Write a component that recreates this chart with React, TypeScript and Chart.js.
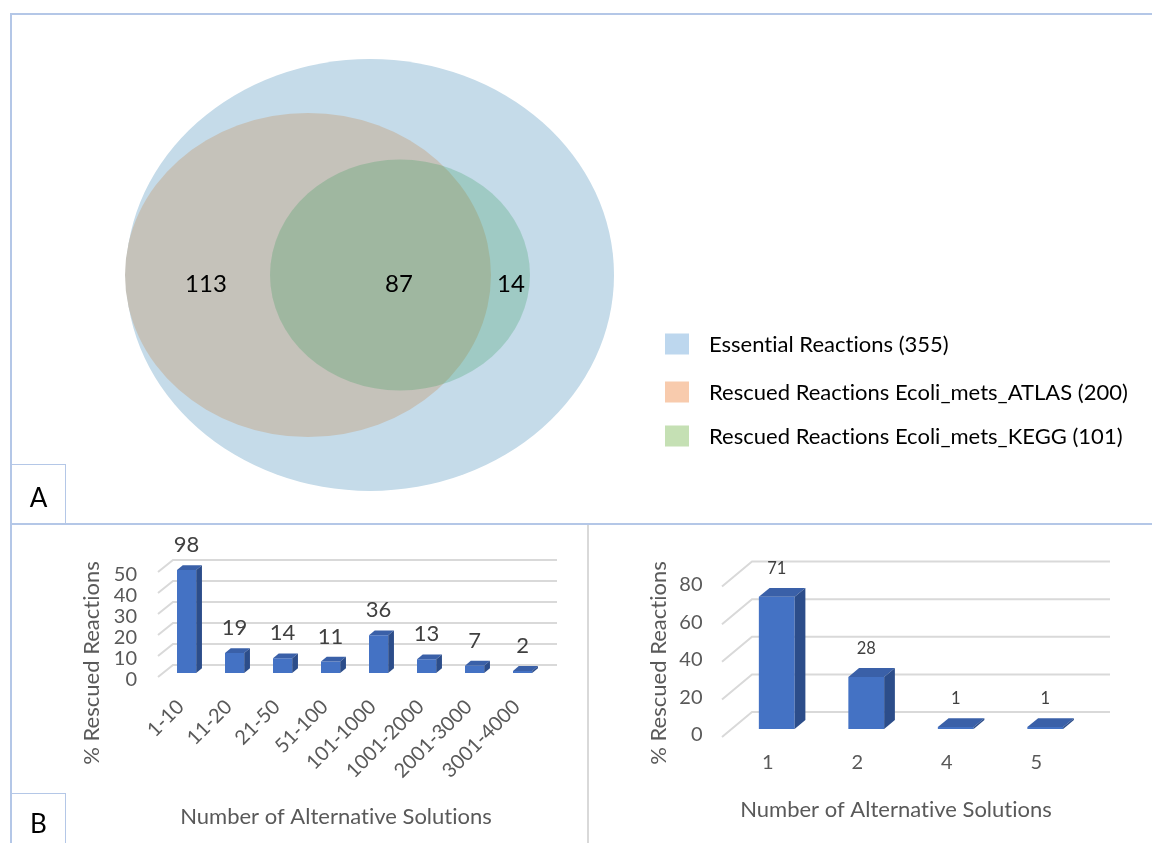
import React, { useEffect, useRef } from 'react';
import { Chart, registerables } from 'chart.js';

Chart.register(...registerables);

const FONT = 'Lato, "Liberation Sans", "DejaVu Sans", sans-serif';
Chart.defaults.font.family = FONT;

// ---------- Panel A : Venn diagram ----------
const vennSetLabels = [
  'Essential Reactions (355)',
  'Rescued Reactions Ecoli_mets_ATLAS (200)',
  'Rescued Reactions Ecoli_mets_KEGG (101)',
];
const vennSetCx = [0, -0.62, 0.3];
const vennSetCy = [0, 0, 0];
const vennSetRx = [2.44, 1.83, 1.3];
const vennSetRy = [2.16, 1.62, 1.155];
const vennRegionValues = [113, 87, 14];
const vennRegionX = [-1.64, 0.29, 1.41];
const vennRegionY = [-0.09, -0.09, -0.09];

const vennFill = ['#c5dbe9', '#c5c2ba', 'rgba(39,152,79,0.24)'];
const vennLegendColors = ['#bdd7ee', '#f8cbad', '#c5e0b4'];

// ---------- Panel B (left) ----------
const atlasCategories = ['1-10', '11-20', '21-50', '51-100', '101-1000', '1001-2000', '2001-3000', '3001-4000'];
const atlasPercent = [49, 9.5, 7, 5.5, 18, 6.5, 3.5, 1];
const atlasCounts = [98, 19, 14, 11, 36, 13, 7, 2];
const atlasTickMax = 50;
const atlasTickStep = 10;

// ---------- Panel B (right) ----------
const keggCategories = ['1', '2', '4', '5'];
const keggPercent = [70.3, 27.7, 1, 1];
const keggCounts = [71, 28, 1, 1];
const keggTickMax = 80;
const keggTickStep = 20;

const yTitle = '% Rescued Reactions';
const xTitle = 'Number of Alternative Solutions';

function noLigatures(ctx: any) {
  try {
    ctx.letterSpacing = '0.01px';
  } catch (e) {
    /* ignore */
  }
}

const vennPlugin = {
  id: 'venn',
  beforeDatasetsDraw(chart: any) {
    const { ctx, scales } = chart;
    const xs = scales.x, ys = scales.y;
    chart.data.datasets.forEach((ds: any) => {
      const p = ds.data[0];
      const cx = xs.getPixelForValue(p.x);
      const cy = ys.getPixelForValue(p.y);
      const rx = Math.abs(xs.getPixelForValue(p.x + p.rx) - cx);
      const ry = Math.abs(ys.getPixelForValue(p.y + p.ry) - cy);
      ctx.save();
      ctx.fillStyle = ds.backgroundColor;
      ctx.beginPath();
      ctx.ellipse(cx, cy, rx, ry, 0, 0, Math.PI * 2);
      ctx.fill();
      ctx.restore();
    });
  },
  afterDatasetsDraw(chart: any, _args: any, opts: any) {
    const { ctx, scales } = chart;
    const xs = scales.x, ys = scales.y;
    ctx.save();
    noLigatures(ctx);
    ctx.fillStyle = '#000';
    ctx.font = `24px ${FONT}`;
    ctx.textAlign = 'center';
    ctx.textBaseline = 'middle';
    vennRegionValues.forEach((v, i) => {
      ctx.fillText(String(v), xs.getPixelForValue(vennRegionX[i]), ys.getPixelForValue(vennRegionY[i]));
    });
    // legend
    ctx.font = `22px ${FONT}`;
    ctx.textAlign = 'left';
    chart.data.datasets.forEach((ds: any, i: number) => {
      const cy = opts.itemY[i];
      ctx.fillStyle = ds.legendColor;
      ctx.fillRect(opts.boxX, cy - opts.boxH / 2, opts.boxW, opts.boxH);
      ctx.fillStyle = '#000';
      ctx.fillText(ds.label, opts.textX, cy + 1);
    });
    ctx.restore();
  },
};

const bar3dPlugin = {
  id: 'bar3d',
  beforeDatasetsDraw(chart: any, _a: any, o: any) {
    const { ctx, chartArea, scales } = chart;
    const ys = scales.y;
    ctx.save();
    ctx.strokeStyle = o.gridColor;
    ctx.lineWidth = o.gridWidth;
    ys.ticks.forEach((t: any) => {
      const py = ys.getPixelForValue(t.value);
      ctx.beginPath();
      ctx.moveTo(chartArea.left + o.front.dx, py + o.front.dy);
      ctx.lineTo(chartArea.left + o.back.dx, py + o.back.dy);
      ctx.lineTo(chartArea.right + o.back.dx, py + o.back.dy);
      ctx.stroke();
    });
    ctx.restore();
  },
  afterDatasetsDraw(chart: any, _a: any, o: any) {
    const { ctx } = chart;
    const meta = chart.getDatasetMeta(0);
    ctx.save();
    noLigatures(ctx);
    meta.data.forEach((bar: any, i: number) => {
      const { x, y, base, width } = bar.getProps(['x', 'y', 'base', 'width'], true);
      const l = x - width / 2;
      const r = x + width / 2;
      const dx = width * o.depthX;
      const dy = -width * o.depthY;
      ctx.fillStyle = o.topColor;
      ctx.beginPath();
      ctx.moveTo(l, y);
      ctx.lineTo(l + dx, y + dy);
      ctx.lineTo(r + dx, y + dy);
      ctx.lineTo(r, y);
      ctx.closePath();
      ctx.fill();
      ctx.fillStyle = o.sideColor;
      ctx.beginPath();
      ctx.moveTo(r, y);
      ctx.lineTo(r + dx, y + dy);
      ctx.lineTo(r + dx, base + dy);
      ctx.lineTo(r, base);
      ctx.closePath();
      ctx.fill();
      // value label
      ctx.fillStyle = o.labelColor;
      ctx.font = `${o.labelSize}px ${FONT}`;
      ctx.textAlign = 'center';
      ctx.textBaseline = 'middle';
      ctx.fillText(String(o.valueLabels[i]), x, y - o.labelGap);
    });
    // axis titles
    ctx.fillStyle = '#595959';
    ctx.font = `22px ${FONT}`;
    ctx.textAlign = 'center';
    ctx.textBaseline = 'middle';
    ctx.fillText(o.xTitle.text, o.xTitle.cx, o.xTitle.cy);
    ctx.translate(o.yTitle.cx, o.yTitle.cy);
    ctx.rotate(-Math.PI / 2);
    ctx.fillText(o.yTitle.text, 0, 0);
    ctx.restore();
  },
};

function makeBarConfig(p: any) {
  return {
    type: 'bar',
    data: {
      labels: p.categories,
      datasets: [
        {
          data: p.values,
          backgroundColor: '#4472c4',
          borderWidth: 0,
          barPercentage: 0.8,
          categoryPercentage: 0.5,
        },
      ],
    },
    options: {
      animation: false,
      responsive: false,
      layout: { padding: p.padding },
      plugins: {
        legend: { display: false },
        tooltip: { enabled: false },
        bar3d: {
          gridColor: '#d9d9d9',
          gridWidth: 2,
          front: p.front,
          back: p.back,
          depthX: 0.3,
          depthY: 0.25,
          topColor: '#3a60a8',
          sideColor: '#2c4d8a',
          labelColor: '#404040',
          labelSize: p.labelSize,
          labelGap: p.labelGap,
          valueLabels: p.counts,
          xTitle: { text: xTitle, cx: p.xTitlePos[0], cy: p.xTitlePos[1] },
          yTitle: { text: yTitle, cx: p.yTitlePos[0], cy: p.yTitlePos[1] },
        },
      },
      scales: {
        x: {
          grid: { display: false, drawTicks: false },
          border: { display: false },
          ticks: {
            color: '#595959',
            font: { size: p.xTickSize },
            maxRotation: p.rotation,
            minRotation: p.rotation,
            padding: p.xTickPad,
            labelOffset: p.xLabelOffset,
            autoSkip: false,
          },
          afterFit: (s: any) => {
            s.height = p.xHeight;
          },
        },
        y: {
          min: 0,
          max: p.max,
          grid: { display: false, drawTicks: false },
          border: { display: false },
          ticks: {
            stepSize: p.step,
            autoSkip: false,
            color: '#595959',
            font: { size: p.yTickSize },
            padding: p.yTickPad,
            labelOffset: p.yLabelOffset,
          },
          afterFit: (s: any) => {
            s.width = p.yWidth;
          },
        },
      },
    },
    plugins: [bar3dPlugin],
  };
}

function VennChart() {
  const ref = useRef<HTMLCanvasElement>(null);
  useEffect(() => {
    const chart = new Chart(ref.current as HTMLCanvasElement, {
      type: 'scatter',
      data: {
        datasets: vennSetLabels.map((label, i) => ({
          label,
          data: [{ x: vennSetCx[i], y: vennSetCy[i], rx: vennSetRx[i], ry: vennSetRy[i] }],
          backgroundColor: vennFill[i],
          legendColor: vennLegendColors[i],
          pointRadius: 0,
        })),
      } as any,
      options: {
        animation: false,
        responsive: false,
        layout: { padding: 0 },
        scales: {
          x: { type: 'linear', min: -3.7, max: 7.82, display: false },
          y: { type: 'linear', min: -2.48, max: 2.75, display: false },
        },
        plugins: {
          legend: { display: false },
          tooltip: { enabled: false },
          venn: { boxX: 665, boxW: 24, boxH: 21, textX: 709, itemY: [344, 392, 436] },
        } as any,
      },
      plugins: [vennPlugin],
    } as any);
    return () => chart.destroy();
  }, []);
  return <canvas ref={ref} width={1152} height={523} style={{ width: 1152, height: 523, display: 'block' }} />;
}

function BarChart(props: { cfg: any; w: number; h: number }) {
  const ref = useRef<HTMLCanvasElement>(null);
  useEffect(() => {
    const chart = new Chart(ref.current as HTMLCanvasElement, makeBarConfig(props.cfg) as any);
    return () => chart.destroy();
  }, []);
  return <canvas ref={ref} width={props.w} height={props.h} style={{ width: props.w, height: props.h, display: 'block' }} />;
}

const atlasCfg = {
  categories: atlasCategories,
  values: atlasPercent,
  counts: atlasCounts,
  max: atlasTickMax,
  step: atlasTickStep,
  padding: { left: 0, right: 41.4, top: 43, bottom: 0 },
  yWidth: 150.6,
  xHeight: 170,
  front: { dx: -4.6, dy: 4 },
  back: { dx: 10.4, dy: -8 },
  labelSize: 22,
  labelGap: 25,
  xTickSize: 20,
  yTickSize: 20,
  rotation: 45,
  xTickPad: 22,
  xLabelOffset: -6,
  yTickPad: 25.6,
  yLabelOffset: 7,
  xTitlePos: [324, 292],
  yTitlePos: [80, 138],
};

const keggCfg = {
  categories: keggCategories,
  values: keggPercent,
  counts: keggCounts,
  max: keggTickMax,
  step: keggTickStep,
  padding: { left: 0, right: 62, top: 53.6, bottom: 0 },
  yWidth: 142,
  xHeight: 114,
  front: { dx: -10, dy: 8 },
  back: { dx: 20, dy: -17 },
  labelSize: 16.5,
  labelGap: 28,
  xTickSize: 20,
  yTickSize: 20,
  rotation: 0,
  xTickPad: 22,
  xLabelOffset: -9,
  yTickPad: 29.5,
  yLabelOffset: 6,
  xTitlePos: [306, 285],
  yTitlePos: [69, 138],
};

const BORDER = '#b4c7e7';

export default function App() {
  const abs = (s: any) => ({ position: 'absolute' as const, ...s });
  return (
    <div style={abs({ left: 0, top: 0, width: 1152, height: 843, background: '#fff', overflow: 'hidden', fontFamily: FONT })}>
      <div style={abs({ left: 0, top: 0 })}>
        <VennChart />
      </div>
      <div style={abs({ left: 12, top: 525 })}>
        <BarChart cfg={atlasCfg} w={576} h={318} />
      </div>
      <div style={abs({ left: 590, top: 525 })}>
        <BarChart cfg={keggCfg} w={562} h={318} />
      </div>
      {/* frame lines */}
      <div style={abs({ left: 10, top: 13, width: 1142, height: 2, background: BORDER })} />
      <div style={abs({ left: 10, top: 13, width: 2, height: 830, background: BORDER })} />
      <div style={abs({ left: 10, top: 523, width: 1142, height: 2, background: BORDER })} />
      <div style={abs({ left: 587, top: 525, width: 2, height: 318, background: '#d9d9d9' })} />
      {/* panel labels */}
      <div
        style={abs({
          left: 12, top: 464, width: 54, height: 59,
          borderTop: `1px solid ${BORDER}`, borderRight: `1px solid ${BORDER}`,
          fontSize: 26, color: '#000', display: 'flex', alignItems: 'center', justifyContent: 'center', paddingTop: 6, boxSizing: 'border-box',
        })}
      >
        A
      </div>
      <div
        style={abs({
          left: 12, top: 793, width: 54, height: 50,
          borderTop: `1px solid ${BORDER}`, borderRight: `1px solid ${BORDER}`,
          fontSize: 26, color: '#000', display: 'flex', alignItems: 'center', justifyContent: 'center', paddingTop: 8, boxSizing: 'border-box',
        })}
      >
        B
      </div>
    </div>
  );
}
